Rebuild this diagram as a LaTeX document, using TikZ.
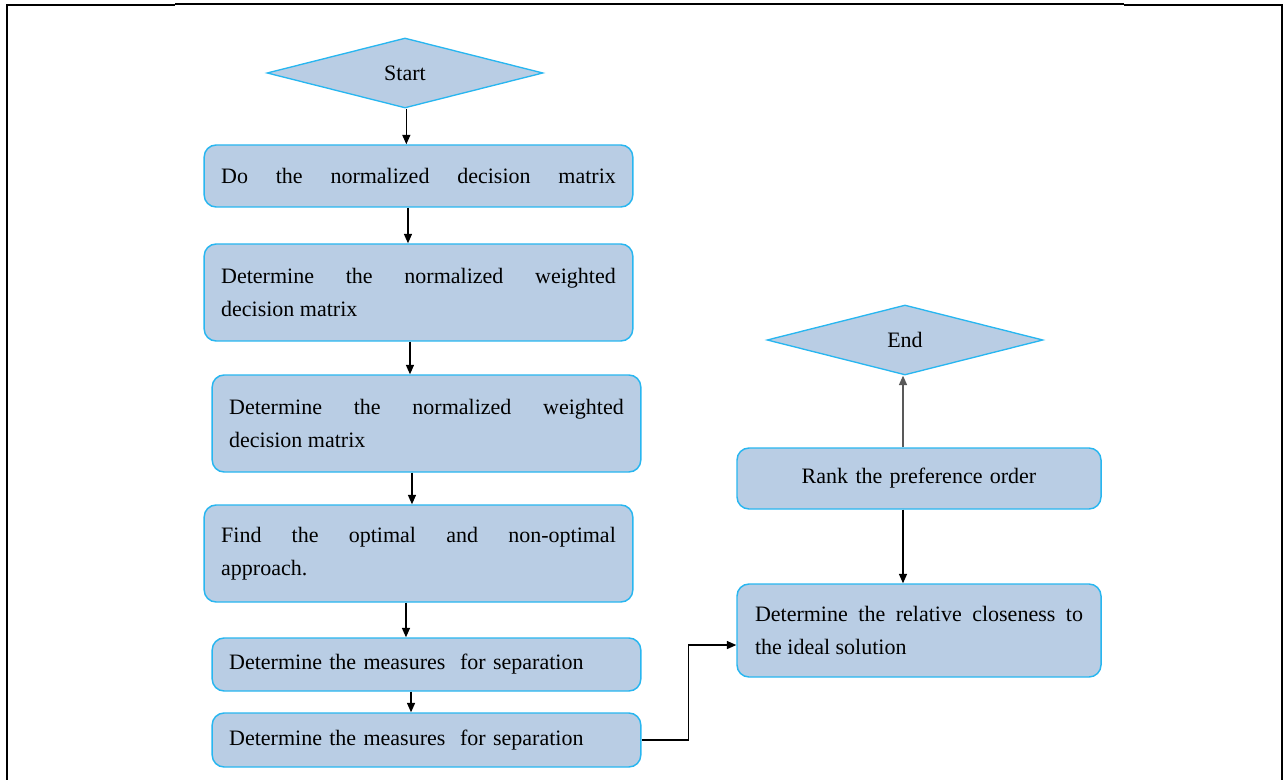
\documentclass[tikz,border=0pt]{standalone}
\usepackage{fontspec}
\setmainfont{Liberation Serif}
\usetikzlibrary{shapes.geometric,arrows.meta}

\definecolor{boxfill}{RGB}{185,205,228}
\definecolor{boxline}{RGB}{40,182,240}

\tikzset{
  flowbox/.style={draw=boxline, fill=boxfill, line width=1.1pt, rounded corners=9pt,
    inner xsep=12.75pt, inner ysep=0pt, text width=296pt, align=justify,
    font=\fontsize{16.5}{24.75}\selectfont},
  flowdiam/.style={diamond, draw=boxline, fill=boxfill, line width=1pt, inner sep=0pt,
    minimum width=207pt, minimum height=52.5pt, font=\fontsize{16.5}{24.75}\selectfont},
  flowarrow/.style={draw=black, line width=0.9pt, -{Triangle[length=7pt,width=6pt]}},
}

\begin{document}
\begin{tikzpicture}[x=0.75pt,y=0.75pt,yscale=-1]
\useasboundingbox (0,0) rectangle (1284,780);

%frame round the page
\draw [line width=1.8pt] (7,780) -- (7,5) -- (175,5) ;
\draw [line width=0.8pt] (175,4) -- (1124,4) ;
\draw [line width=1.8pt] (1124,5) -- (1282,5) -- (1282,780) ;

%left column
\node [flowdiam] (start) at (405,73) {\raisebox{-1.5pt}{Start}};
\node [flowbox, minimum height=46.5pt] (normdm) at (418.5,176)
  {Do\hfill the\hfill normalized\hfill decision\hfill matrix};
\node [flowbox, minimum height=72.75pt] (wnormdmA) at (418.5,292.5)
  {Determine the normalized weighted\linebreak decision matrix};
\node [flowbox, minimum height=72.75pt] (wnormdmB) at (426.5,423.5)
  {Determine the normalized weighted\linebreak decision matrix};
\node [flowbox, minimum height=72.75pt] (optimal) at (418.5,553.5)
  {Find the optimal and non-optimal\linebreak approach.};
\node [flowbox, align=left, minimum height=39.75pt] (separA) at (426.5,664.5)
  {Determine the measures~ for separation};
\node [flowbox, align=left, minimum height=40.5pt] (separB) at (426.5,740)
  {Determine the measures~ for separation};

%right column
\node [flowbox, text width=246pt, inner xsep=13.5pt, minimum height=69.75pt] (closeness) at (919,630.5)
  {Determine the relative closeness to\linebreak the ideal solution};
\node [flowbox, text width=246pt, inner xsep=13.5pt, align=center, minimum height=45.75pt] (rank) at (919,478.5)
  {Rank the preference order};
\node [flowdiam] (stop) at (905,340) {\raisebox{-1.5pt}{End}};

%arrows
\draw [flowarrow] ([xshift=1pt]start.south) -- ([xshift=1pt]start.south |- normdm.north) ;
\draw [flowarrow] ([xshift=-7.9pt]normdm.south) -- ([xshift=-7.9pt]normdm.south |- wnormdmA.north) ;
\draw [flowarrow] ([xshift=-6.4pt]wnormdmA.south) -- ([xshift=-6.4pt]wnormdmA.south |- wnormdmB.north) ;
\draw [flowarrow] ([xshift=-10.9pt]wnormdmB.south) -- ([xshift=-10.9pt]wnormdmB.south |- optimal.north) ;
\draw [flowarrow] ([xshift=-9.4pt]optimal.south) -- ([xshift=-9.4pt]optimal.south |- separA.north) ;
\draw [flowarrow] ([xshift=-11.6pt]separA.south) -- ([xshift=-11.6pt]separA.south |- separB.north) ;
\draw [flowarrow] (separB.east) -- ++(47,0) |- ([yshift=10.9pt]closeness.west) ;
\draw [flowarrow] ([xshift=-12pt]rank.south) -- ([xshift=-12pt]rank.south |- closeness.north) ;
\draw [flowarrow, draw=black!65] ([xshift=-12pt]rank.north) -- ([xshift=-12pt]rank.north |- stop.south) ;

\end{tikzpicture}
\end{document}
